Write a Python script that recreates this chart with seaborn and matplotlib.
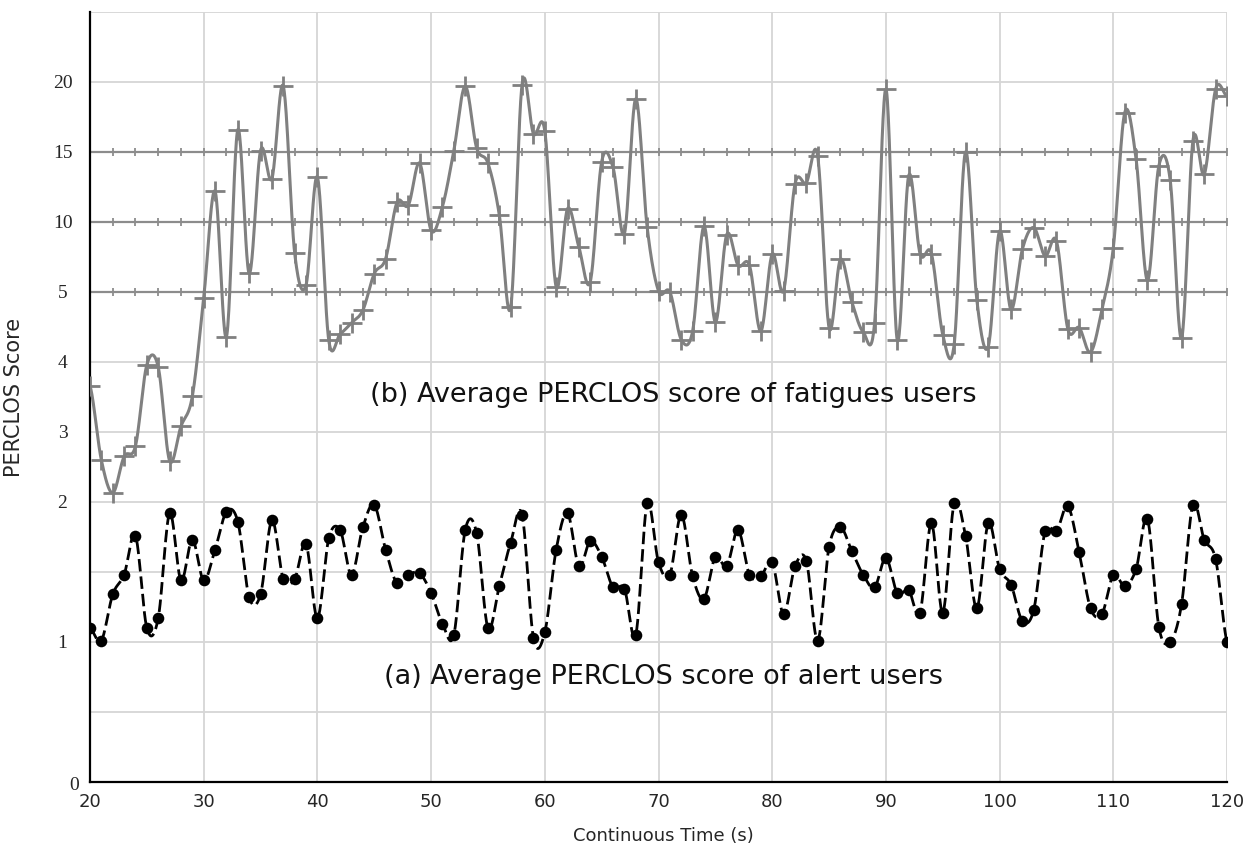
import numpy as np
import pandas as pd
import matplotlib
matplotlib.use("Agg")
import matplotlib.pyplot as plt
import seaborn as sns
from matplotlib.transforms import ScaledTranslation

# ---------------------------------------------------------------- data
seconds = list(range(20, 121))

alert_scores = [
    1.10, 1.01, 1.34, 1.48, 1.76, 1.10, 1.17, 1.92, 1.44, 1.73,   # 20-29
    1.44, 1.66, 1.93, 1.86, 1.32, 1.34, 1.87, 1.45, 1.45, 1.70,   # 30-39
    1.17, 1.74, 1.80, 1.48, 1.82, 1.98, 1.66, 1.42, 1.48, 1.49,   # 40-49
    1.35, 1.13, 1.05, 1.80, 1.78, 1.10, 1.40, 1.71, 1.91, 1.03,   # 50-59
    1.07, 1.66, 1.92, 1.54, 1.72, 1.61, 1.39, 1.38, 1.05, 1.99,   # 60-69
    1.57, 1.48, 1.91, 1.47, 1.31, 1.61, 1.54, 1.80, 1.48, 1.47,   # 70-79
    1.57, 1.20, 1.54, 1.58, 1.01, 1.68, 1.82, 1.65, 1.48, 1.39,   # 80-89
    1.60, 1.35, 1.37, 1.21, 1.85, 1.21, 1.99, 1.76, 1.24, 1.85,   # 90-99
    1.52, 1.41, 1.15, 1.23, 1.79, 1.79, 1.97, 1.64, 1.24, 1.20,   # 100-109
    1.48, 1.40, 1.52, 1.88, 1.11, 1.00, 1.27, 1.98, 1.73, 1.59,   # 110-119
    1.00,                                                         # 120
]

fatigue_scores = [
    3.66, 2.60, 2.13, 2.65, 2.80, 3.96, 3.93, 2.59, 3.08, 3.51,   # 20-29
    4.91, 12.2, 4.36, 16.6, 6.33, 15.1, 13.1, 19.7, 7.80, 5.50,   # 30-39
    13.2, 4.31, 4.40, 4.56, 4.74, 6.31, 7.38, 11.4, 11.2, 14.2,   # 40-49
    9.40, 11.1, 15.1, 19.7, 15.3, 14.2, 10.5, 4.78, 19.8, 16.3,   # 50-59
    16.5, 5.36, 10.95, 8.20, 5.74, 14.3, 13.9, 9.17, 18.8, 9.64,  # 60-69
    5.07, 5.00, 4.32, 4.44, 9.70, 4.57, 9.10, 6.90, 6.90, 4.44,   # 70-79
    7.70, 5.10, 12.7, 12.8, 14.7, 4.49, 7.33, 4.86, 4.43, 4.55,   # 80-89
    19.5, 4.31, 13.3, 7.74, 7.74, 4.39, 4.25, 15.0, 4.88, 4.22,   # 90-99
    9.36, 4.75, 8.05, 9.60, 7.57, 8.64, 4.47, 4.49, 4.14, 4.75,   # 100-109
    8.17, 17.8, 14.5, 5.83, 14.0, 13.0, 4.34, 15.8, 13.4, 19.5,   # 110-119
    19.0,                                                         # 120
]

x_ticks = list(range(20, 121, 10))
y_ticks = [0, 0.5, 1, 1.5, 2, 3, 4, 5, 10, 15, 20, 25]
y_tick_labels = ["0", "", "1", "", "2", "3", "4", "5", "10", "15", "20", ""]
reference_levels = [5, 10, 15]
reference_marks = list(range(20, 121, 2))

label_fatigue = "(b) Average PERCLOS score of fatigues users"
label_alert = "(a) Average PERCLOS score of alert users"


# ------------------------------------------------- stretched score axis
# 0-2 gets two units per point, 2-5 one unit per point, 5-25 one unit per 5
def to_axis(v):
    v = np.asarray(v, dtype=float)
    return np.where(v <= 2, 2 * v, np.where(v <= 5, 4 + (v - 2), 7 + (v - 5) / 5))


def from_axis(p):
    p = np.asarray(p, dtype=float)
    return np.where(p <= 4, p / 2, np.where(p <= 7, 2 + (p - 4), 5 + (p - 7) * 5))


def smooth_curve(xs, vs, steps=24):
    """Cardinal (Catmull-Rom) spline drawn in axis space, as a chart app would."""
    x = np.asarray(xs, dtype=float)
    p = to_axis(vs)
    m = np.empty_like(p)
    m[1:-1] = (p[2:] - p[:-2]) / 2
    m[0] = (p[1] - p[0]) / 2
    m[-1] = (p[-1] - p[-2]) / 2
    xs_out, ps_out = [], []
    for i in range(len(x) - 1):
        s = np.linspace(0, 1, steps, endpoint=False)
        h00 = 2 * s**3 - 3 * s**2 + 1
        h10 = s**3 - 2 * s**2 + s
        h01 = -2 * s**3 + 3 * s**2
        h11 = s**3 - s**2
        dx = x[i + 1] - x[i]
        ps_out.append(h00 * p[i] + h10 * m[i] + h01 * p[i + 1] + h11 * m[i + 1])
        xs_out.append(x[i] + s * dx)
    xs_out.append([x[-1]])
    ps_out.append([p[-1]])
    return np.concatenate(xs_out), from_axis(np.concatenate(ps_out))


# ---------------------------------------------------------------- style
sns.set_style("white")
plt.rcParams["font.family"] = ["DejaVu Sans"]

fig = plt.figure(figsize=(12.48, 8.5), dpi=100)
ax = fig.add_axes([0.0721, 0.08, 0.9111, 0.9059])
ax.set_yscale("function", functions=(to_axis, from_axis))

gray = "#808080"
ref_gray = "#8c8c8c"

# heavier reference levels with small tick marks every two seconds
for level in reference_levels:
    ax.plot([seconds[0], seconds[-1]], [level, level], color=ref_gray, lw=1.6, zorder=2)
    ax.plot(reference_marks, [level] * len(reference_marks), linestyle="none",
            marker="|", markersize=6, markeredgewidth=1.3, color=ref_gray, zorder=2)

# fatigued users: smooth gray curve with "+" markers
fx, fy = smooth_curve(seconds, fatigue_scores)
fatigue_curve = pd.DataFrame({"t": fx, "score": fy})
sns.lineplot(data=fatigue_curve, x="t", y="score", color=gray, linewidth=2.2,
             estimator=None, sort=False, ax=ax, zorder=3)
sns.scatterplot(x=seconds, y=fatigue_scores, marker="+", s=190, color=gray,
                linewidth=2.0, ax=ax, zorder=4)

# alert users: smooth dashed black curve with filled dots
ax_x, ax_y = smooth_curve(seconds, alert_scores)
alert_curve = pd.DataFrame({"t": ax_x, "score": ax_y})
sns.lineplot(data=alert_curve, x="t", y="score", color="black", linewidth=2.0,
             linestyle=(0, (4.5, 1.8)), estimator=None, sort=False, ax=ax, zorder=5)
sns.scatterplot(x=seconds, y=alert_scores, marker="o", s=70, color="black",
                edgecolor="black", linewidth=0, ax=ax, zorder=6)

# ---------------------------------------------------------------- axes
ax.set_xlim(20, 120)
ax.set_ylim(0, 25)
ax.set_xticks(x_ticks)
ax.set_xticklabels([str(t) for t in x_ticks])
ax.set_yticks(y_ticks)
ax.set_yticklabels(y_tick_labels)
ax.minorticks_off()

ax.grid(True, color="#d6d6d6", linewidth=1.3, zorder=0)
ax.set_axisbelow(True)

for side in ("top", "right"):
    ax.spines[side].set_visible(False)
for side in ("left", "bottom"):
    ax.spines[side].set_color("black")
    ax.spines[side].set_linewidth(1.6)

ax.tick_params(axis="both", direction="out", length=4, width=1.4, color="black")
ax.tick_params(axis="x", labelsize=13, pad=4)
ax.tick_params(axis="y", labelsize=14, pad=10)
for lab in ax.get_yticklabels():
    lab.set_fontfamily(["Liberation Serif"])
    lab.set_horizontalalignment("center")
    lab.set_transform(lab.get_transform() + ScaledTranslation(-0.08, 0, fig.dpi_scale_trans))
zero_label = ax.get_yticklabels()[0]
zero_label.set_transform(zero_label.get_transform() + ScaledTranslation(0.12, -0.02, fig.dpi_scale_trans))

ax.set_xlabel("Continuous Time (s)", fontsize=13)
ax.set_ylabel("PERCLOS Score", fontsize=15)
ax.xaxis.set_label_coords(0.504, -0.058)
ax.yaxis.set_label_coords(-0.058, 0.5)

ax.text(71.3, 3.53, label_fatigue, ha="center", va="center", fontsize=19.5, color="#111111")
ax.text(70.4, 0.75, label_alert, ha="center", va="center", fontsize=19.5, color="#111111")

fig.savefig("out.png", dpi=100)
